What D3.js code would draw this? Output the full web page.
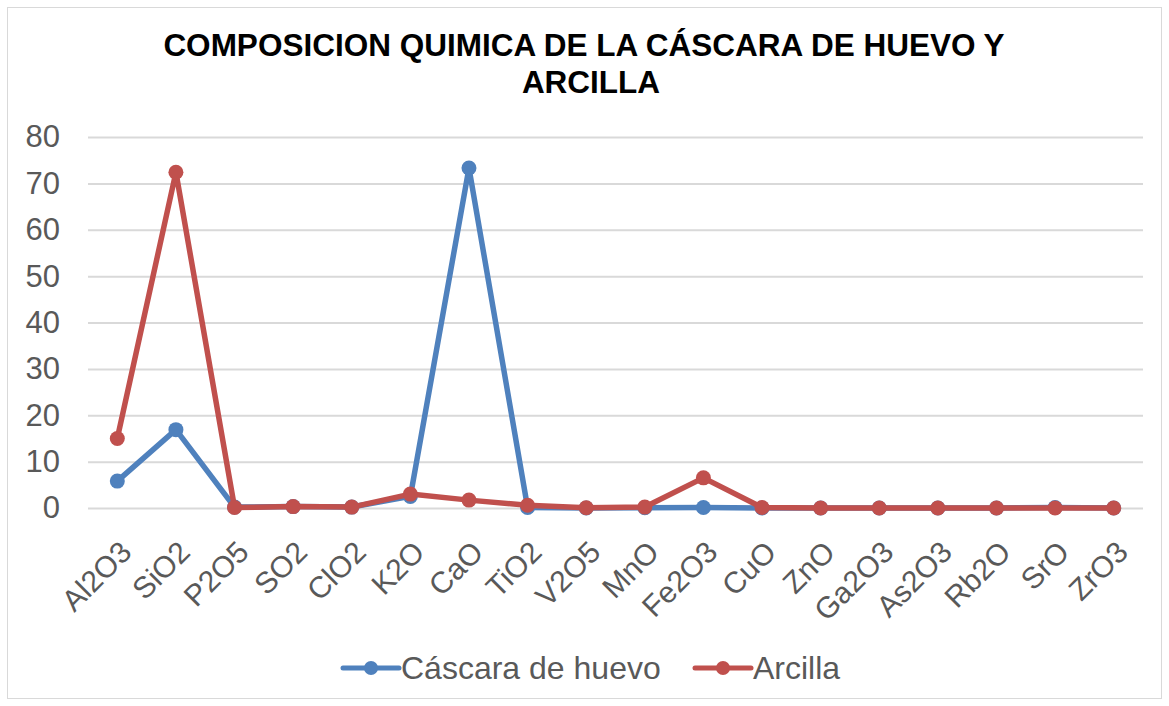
<!DOCTYPE html>
<html>
<head>
<meta charset="utf-8">
<script src="https://cdn.jsdelivr.net/npm/d3@7"></script>
<style>
  body { margin: 0; background: #fff; }
  text { font-family: "Liberation Sans", Arial, sans-serif; }
</style>
</head>
<body>
<div id="chart"></div>
<script>
// data
var categories = ["Al2O3", "SiO2", "P2O5", "SO2", "ClO2", "K2O", "CaO", "TiO2", "V2O5",
                  "MnO", "Fe2O3", "CuO", "ZnO", "Ga2O3", "As2O3", "Rb2O", "SrO", "ZrO3"];
var cascara = [5.8, 16.9, 0.2, 0.3, 0.2, 2.5, 73.3, 0.1, 0.0, 0.05, 0.1, 0.0, 0.0, 0.0, 0.0, 0.0, 0.1, 0.0];
var arcilla = [15.0, 72.4, 0.1, 0.3, 0.2, 3.0, 1.7, 0.6, 0.05, 0.2, 6.5, 0.1, 0.0, 0.0, 0.0, 0.0, 0.0, 0.0];
var yTicks = [0, 10, 20, 30, 40, 50, 60, 70, 80];
var seriesNames = ["Cáscara de huevo", "Arcilla"];
var colors = ["#4f81bd", "#c0504d"];

var W = 1169, H = 706;
var margin = {top: 137, right: 26, bottom: 198, left: 88},
    width = W - margin.left - margin.right,
    height = H - margin.top - margin.bottom;

var svg = d3.select("#chart").append("svg")
    .attr("width", W)
    .attr("height", H);

// outer border
svg.append("rect")
    .attr("x", 7.5).attr("y", 7.5)
    .attr("width", 1154).attr("height", 691)
    .attr("fill", "#fff")
    .attr("stroke", "#d9d9d9");

// Title
svg.append("text")
    .attr("x", 584).attr("y", 56)
    .attr("text-anchor", "middle")
    .style("font-size", "31.5px")
    .style("font-weight", "bold")
    .text("COMPOSICION QUIMICA DE LA CÁSCARA DE HUEVO Y");
svg.append("text")
    .attr("x", 591).attr("y", 93)
    .attr("text-anchor", "middle")
    .style("font-size", "31.5px")
    .style("font-weight", "bold")
    .text("ARCILLA");

var g = svg.append("g")
    .attr("transform", "translate(" + margin.left + "," + margin.top + ")");

var x = d3.scaleBand().domain(categories).range([0, width]);
var y = d3.scaleLinear().domain([0, 80]).range([height, 0]);

// gridlines + y labels
var yAxis = g.append("g")
    .call(d3.axisLeft(y).tickValues(yTicks).tickSize(-width).tickPadding(28));
yAxis.select(".domain").remove();
yAxis.selectAll(".tick line").attr("stroke", "#d9d9d9").attr("stroke-width", 2);
yAxis.selectAll(".tick text")
    .attr("fill", "#595959")
    .style("font-size", "31px");

// x labels
var xAxis = g.append("g")
    .attr("transform", "translate(0," + height + ")")
    .call(d3.axisBottom(x).tickSize(0));
xAxis.select(".domain").remove();
xAxis.selectAll(".tick text")
    .attr("fill", "#595959")
    .style("font-size", "30px")
    .attr("text-anchor", "end")
    .attr("x", 0).attr("y", 0)
    .attr("dx", 0).attr("dy", 0)
    .attr("transform", "translate(16,46) rotate(-45)");

var line = d3.line()
    .x(function(d, i) { return x(categories[i]) + x.bandwidth() / 2; })
    .y(function(d) { return y(d); });

[cascara, arcilla].forEach(function(data, s) {
    g.append("path")
        .datum(data)
        .attr("fill", "none")
        .attr("stroke", colors[s])
        .attr("stroke-width", 5.5)
        .attr("stroke-linejoin", "round")
        .attr("d", line);
    g.selectAll(".pt" + s)
        .data(data)
        .enter().append("circle")
        .attr("cx", function(d, i) { return x(categories[i]) + x.bandwidth() / 2; })
        .attr("cy", function(d) { return y(d); })
        .attr("r", 7.5)
        .attr("fill", colors[s]);
});

// Legend
var legendX = [343, 695];
seriesNames.forEach(function(name, s) {
    var lg = svg.append("g").attr("transform", "translate(" + legendX[s] + ",668)");
    lg.append("line")
        .attr("x1", 0).attr("x2", 56)
        .attr("stroke", colors[s]).attr("stroke-width", 5)
        .attr("stroke-linecap", "round");
    lg.append("circle").attr("cx", 28).attr("r", 7).attr("fill", colors[s]);
    lg.append("text")
        .attr("x", 58).attr("y", 11)
        .attr("fill", "#595959")
        .style("font-size", "32px")
        .text(name);
});
</script>
</body>
</html>
